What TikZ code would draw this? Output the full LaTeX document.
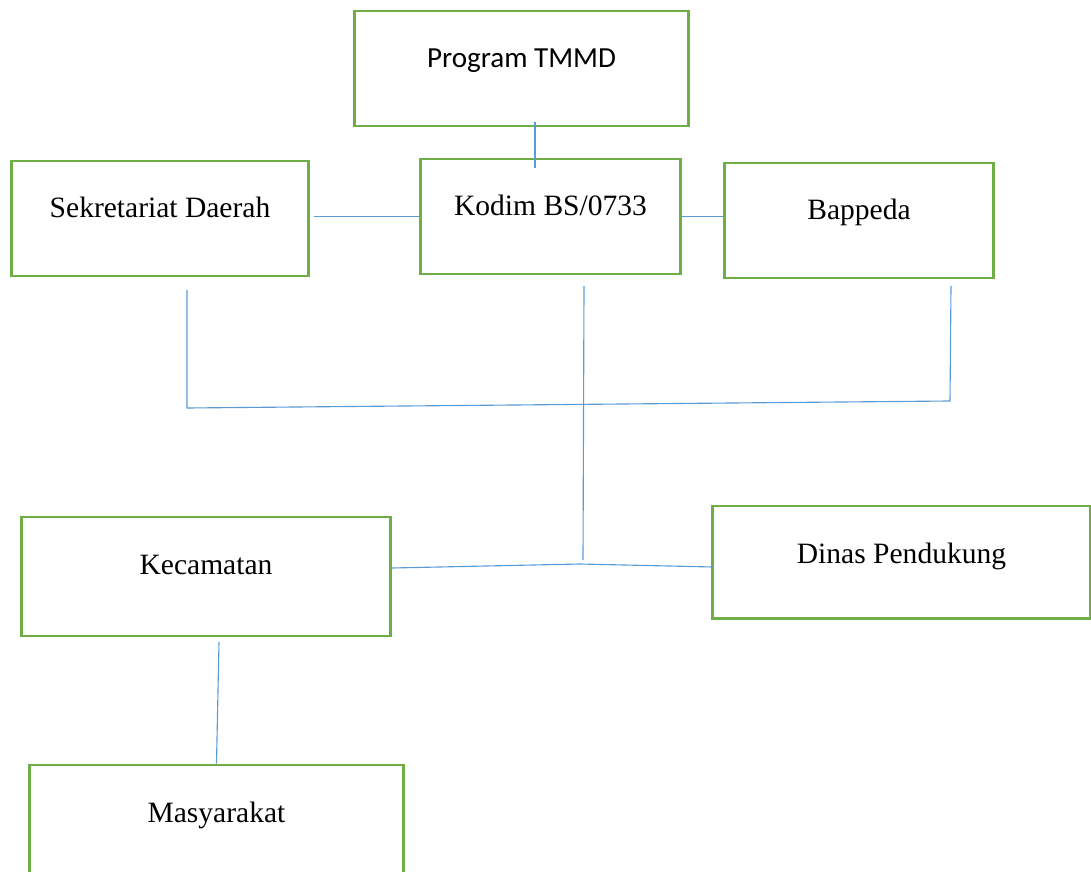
\documentclass[tikz,border=0pt]{standalone}
\usepackage{fontspec}
\setmainfont{Liberation Serif}
\newfontfamily\calibrifont{Carlito}
\usepackage{xcolor}
\usetikzlibrary{positioning}

\definecolor{boxgreen}{HTML}{70AD47}
\definecolor{lineblue}{HTML}{5B9BD5}

\begin{document}
\begin{tikzpicture}[
          x=0.025cm, y=-0.025cm,
          unitbox/.style={rectangle, draw=boxgreen, line width=2.1pt, inner sep=0pt,
                          text height=1.425cm, text depth=1.45cm, anchor=base,
                          font=\fontsize{21}{25}\selectfont},
          link/.style={draw=lineblue, line width=0.8pt}
      ]
      \useasboundingbox (0,0) rectangle (1091,872);

      % Boxes
      \node[unitbox, minimum width=8.33cm, font=\calibrifont\fontsize{20.7}{25}\selectfont] (tmmd) at (521.5,68) {Program TMMD};
      \node[unitbox, minimum width=6.48cm] (kodim) at (550.5,216) {Kodim BS/0733};
      \node[unitbox, minimum width=7.4cm] (sekda) at (160,218) {Sekretariat Daerah};
      \node[unitbox, minimum width=6.7cm] (bappeda) at (859,220) {Bappeda};
      \node[unitbox, minimum width=9.2cm, text depth=1.55cm] (kecamatan) at (206,574) {Kecamatan};
      \node[unitbox, minimum width=9.43cm, text depth=1.38cm] (dinas) at (901.5,563) {Dinas Pendukung};
      \node[unitbox, minimum width=9.33cm] (masyarakat) at (216.5,822) {Masyarakat};

      % Junction points
      \coordinate (tmmdfoot) at (535,122);
      \coordinate (kodimhead) at (535,168);
      \coordinate (sekdafoot) at (187,290);
      \coordinate (sekdajoin) at (187,408);
      \coordinate (bappedajoin) at (950,401);
      \coordinate (bappedafoot) at (951,286);
      \coordinate (kodimfoot) at (584,286);
      \coordinate (kodimjoin) at (583,560);
      \coordinate (keceast) at (392,568);
      \coordinate (midjoin) at (580,564);
      \coordinate (dinaswest) at (713,567);
      \coordinate (kecfoot) at (219,642);

      % Connectors
      \draw[link] (tmmdfoot) -- (kodimhead);
      \draw[link, shorten <=3pt] (sekda.east |- kodim.west) -- (kodim.west);
      \draw[link] (kodim.east) -- (kodim.east -| bappeda.west);
      \draw[link] (sekdafoot) -- (sekdajoin) -- (bappedajoin) -- (bappedafoot);
      \draw[link] (kodimfoot) -- (kodimjoin);
      \draw[link] (keceast) -- (midjoin) -- (dinaswest);
      \draw[link] (kecfoot) -- (masyarakat.north);

\end{tikzpicture}
\end{document}
